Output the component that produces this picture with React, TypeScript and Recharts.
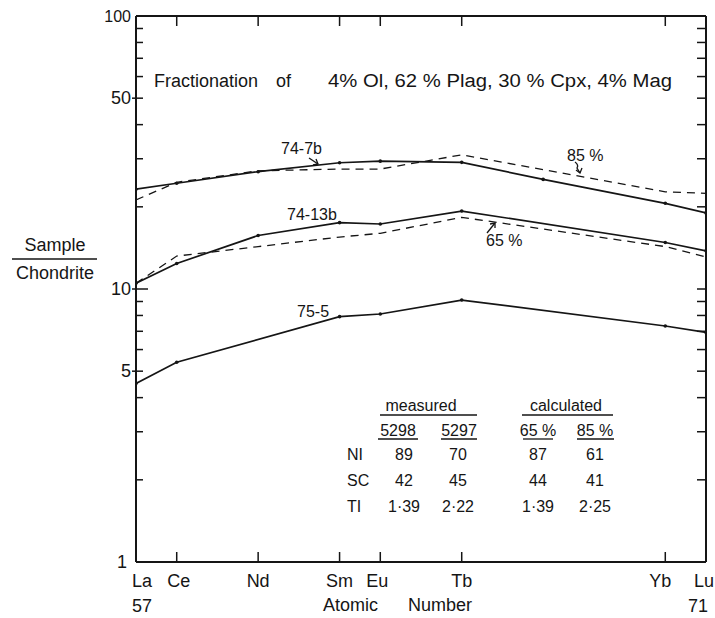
import { LineChart, Line, XAxis, YAxis } from "recharts";

// atomic numbers of the plotted elements
const atomicNumbers = [57, 58, 60, 62, 63, 65, 67, 70, 71];
const elementSymbols = ["La", "Ce", "Nd", "Sm", "Eu", "Tb", "Ho", "Yb", "Lu"];
const axisTicks = [57, 58, 60, 62, 63, 65, 70, 71];

// sample / chondrite
const sample747b = [23.2, 24.4, 26.9, 29.0, 29.4, 29.1, 25.2, 20.6, 19.0];
const calc85 = [21.2, 24.6, 27.1, 27.5, 27.5, 31.0, null, 22.7, 22.4];
const sample7413b = [10.5, 12.4, 15.7, 17.5, 17.3, 19.3, null, 14.8, 13.8];
const calc65 = [10.5, 13.2, 14.3, 15.5, 16.0, 18.3, null, 14.3, 13.1];
const sample755 = [4.51, 5.39, null, 7.92, 8.1, 9.11, null, 7.32, 6.93];

const yTicks = [1, 2, 3, 4, 5, 6, 7, 8, 9, 10, 20, 30, 40, 50, 60, 70, 80, 90, 100];
const yLabelled = [1, 5, 10, 50, 100];

// table in the lower right
const tableRows = ["NI", "SC", "TI"];
const measured5298 = ["89", "42", "1·39"];
const measured5297 = ["70", "45", "2·22"];
const calculated65 = ["87", "44", "1·39"];
const calculated85 = ["61", "41", "2·25"];

const data = atomicNumbers.map((z, i) => ({
  z,
  s747b: sample747b[i],
  c85: calc85[i],
  s7413b: sample7413b[i],
  c65: calc65[i],
  s755: sample755[i],
}));

const INK = "#151515";
const FONT = '"Liberation Sans", Arial, sans-serif';

const symbolOf = (z: number) => elementSymbols[atomicNumbers.indexOf(z)];
const labelShift: Record<number, number> = { 57: 6, 58: 2, 63: -3, 70: -5, 71: -2 };

const BottomTick = (props: any) => {
  const { x, y, payload } = props;
  const z = payload.value;
  return (
    <g>
      {z !== 57 && z !== 71 && (
        <line x1={x} x2={x} y1={y} y2={y - 10} stroke={INK} strokeWidth={1.5} />
      )}
      <text x={x + (labelShift[z] || 0)} y={y + 25} textAnchor="middle" fontSize={18} fill={INK} fontFamily={FONT}>
        {symbolOf(z)}
      </text>
      {(z === 57 || z === 71) && (
        <text x={z === 57 ? x + 6 : x - 8} y={y + 50} textAnchor="middle" fontSize={18} fill={INK} fontFamily={FONT}>
          {z}
        </text>
      )}
    </g>
  );
};

const TopTick = (props: any) => {
  const { x, y, payload } = props;
  if (payload.value === 57 || payload.value === 71) return <g />;
  return <line x1={x} x2={x} y1={y} y2={y + 10} stroke={INK} strokeWidth={1.5} />;
};

const LeftTick = (props: any) => {
  const { x, y, payload } = props;
  const v = payload.value;
  const major = v === 10;
  const mid = v === 5 || v === 50;
  return (
    <g>
      {v !== 1 && v !== 100 && (
        <line x1={major || mid ? x - 4 : x} x2={major ? x + 12 : x + 7} y1={y} y2={y} stroke={INK} strokeWidth={1.5} />
      )}
      {yLabelled.includes(v) && (
        <text x={v === 1 ? x - 9 : x - 5} y={y + 6} textAnchor="end" fontSize={v === 100 ? 16 : 18} fill={INK} fontFamily={FONT}>
          {v}
        </text>
      )}
    </g>
  );
};

const RightTick = (props: any) => {
  const { x, y, payload } = props;
  if (payload.value === 1 || payload.value === 100) return <g />;
  return <line x1={x - 9} x2={x} y1={y} y2={y} stroke={INK} strokeWidth={1.5} />;
};

const lineProps = {
  type: "linear" as const,
  xAxisId: "bottom",
  yAxisId: "left",
  connectNulls: true,
  isAnimationActive: false,
};

const solidDot = { r: 1.8, fill: INK, stroke: "none" };

export default function App() {
  const t = { fontFamily: FONT, fill: INK };
  return (
    <div style={{ position: "absolute", left: 0, top: 0, width: 715, height: 618, background: "#fff" }}>
      <LineChart width={715} height={618} data={data} margin={{ top: 15, right: 8, bottom: 0, left: 0 }}>
        <XAxis
          xAxisId="bottom"
          dataKey="z"
          type="number"
          domain={[57, 71]}
          ticks={axisTicks}
          interval={0}
          height={56}
          tickSize={0}
          tickMargin={0}
          tick={<BottomTick />}
          axisLine={{ stroke: INK, strokeWidth: 2 }}
          allowDataOverflow
        />
        <XAxis
          xAxisId="top"
          orientation="top"
          dataKey="z"
          type="number"
          domain={[57, 71]}
          ticks={axisTicks}
          interval={0}
          height={1}
          tickSize={0}
          tickMargin={0}
          tick={<TopTick />}
          axisLine={{ stroke: INK, strokeWidth: 2 }}
          allowDataOverflow
        />
        <YAxis
          yAxisId="left"
          type="number"
          scale="log"
          domain={[1, 100]}
          ticks={yTicks}
          interval={0}
          width={136}
          tickSize={0}
          tickMargin={0}
          tick={<LeftTick />}
          axisLine={{ stroke: INK, strokeWidth: 2 }}
          allowDataOverflow
        />
        <YAxis
          yAxisId="right"
          orientation="right"
          type="number"
          scale="log"
          domain={[1, 100]}
          ticks={yTicks}
          interval={0}
          width={1}
          tickSize={0}
          tickMargin={0}
          tick={<RightTick />}
          axisLine={{ stroke: INK, strokeWidth: 2 }}
          allowDataOverflow
        />
        <Line {...lineProps} dataKey="c85" stroke={INK} strokeWidth={1.3} strokeDasharray="8 6" dot={false} />
        <Line {...lineProps} dataKey="c65" stroke={INK} strokeWidth={1.3} strokeDasharray="8 6" dot={false} />
        <Line {...lineProps} dataKey="s747b" stroke={INK} strokeWidth={1.7} dot={solidDot} />
        <Line {...lineProps} dataKey="s7413b" stroke={INK} strokeWidth={1.7} dot={solidDot} />
        <Line {...lineProps} dataKey="s755" stroke={INK} strokeWidth={1.7} dot={solidDot} />
      </LineChart>

      <svg width={715} height={618} style={{ position: "absolute", left: 0, top: 0, pointerEvents: "none" }}>
        <g {...t} fontSize={18}>
          <text x={154} y={87}>Fractionation</text>
          <text x={276} y={87}>of</text>
          <text x={328} y={87} textLength={344} lengthAdjust="spacingAndGlyphs">4% Ol, 62 % Plag, 30 % Cpx, 4% Mag</text>

          <text x={55} y={251} textAnchor="middle">Sample</text>
          <line x1={12} x2={97} y1={259} y2={259} stroke={INK} strokeWidth={1.5} />
          <text x={55} y={279} textAnchor="middle">Chondrite</text>

          <text x={323} y={611}>Atomic</text>
          <text x={408} y={611}>Number</text>
        </g>

        <g {...t} fontSize={16}>
          <text x={281} y={154}>74-7b</text>
          <text x={287} y={220}>74-13b</text>
          <text x={297} y={317}>75-5</text>
          <text x={567} y={161}>85 %</text>
          <text x={486} y={246}>65 %</text>
        </g>
        <g stroke={INK} strokeWidth={1.3} fill="none">
          <path d="M309 158 L318 164" />
          <path d="M313 165 L318 164 L316 159" />
          <path d="M575 162 Q579 165 577 168 L580 173" />
          <path d="M576 170 L580 173 L582 168" />
          <path d="M487 233 L495 223" />
          <path d="M490 224 L495 223 L495 228" />
        </g>

        <g {...t} fontSize={16}>
          <text x={421} y={411} textAnchor="middle">measured</text>
          <line x1={380} x2={477} y1={415} y2={415} stroke={INK} strokeWidth={1.5} />
          <text x={566} y={411} textAnchor="middle">calculated</text>
          <line x1={522} x2={613} y1={415} y2={415} stroke={INK} strokeWidth={1.5} />

          <text x={398} y={436} textAnchor="middle">5298</text>
          <line x1={378} x2={418} y1={439} y2={439} stroke={INK} strokeWidth={1.3} />
          <text x={459} y={436} textAnchor="middle">5297</text>
          <line x1={441} x2={477} y1={439} y2={439} stroke={INK} strokeWidth={1.3} />
          <text x={538} y={436} textAnchor="middle">65 %</text>
          <line x1={523} x2={553} y1={439} y2={439} stroke={INK} strokeWidth={1.3} />
          <text x={595} y={436} textAnchor="middle">85 %</text>
          <line x1={577} x2={614} y1={439} y2={439} stroke={INK} strokeWidth={1.3} />

          {tableRows.map((r, i) => {
            const y = 460 + i * 26;
            return (
              <g key={r}>
                <text x={347} y={y}>{r}</text>
                <text x={404} y={y} textAnchor="middle">{measured5298[i]}</text>
                <text x={458} y={y} textAnchor="middle">{measured5297[i]}</text>
                <text x={538} y={y} textAnchor="middle">{calculated65[i]}</text>
                <text x={595} y={y} textAnchor="middle">{calculated85[i]}</text>
              </g>
            );
          })}
        </g>
      </svg>
    </div>
  );
}
